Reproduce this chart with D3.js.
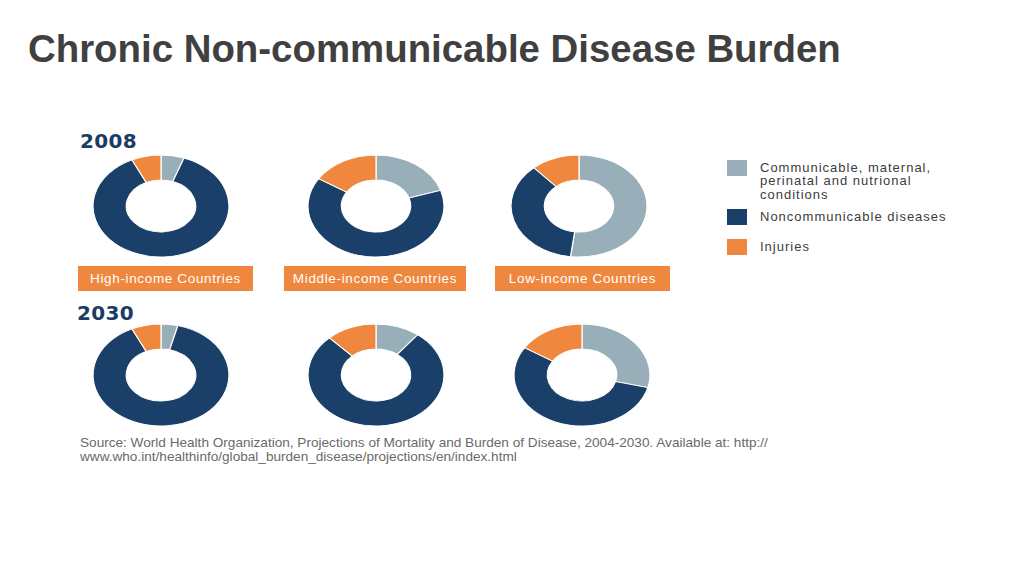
<!DOCTYPE html>
<html>
<head>
<meta charset="utf-8">
<script src="https://cdn.jsdelivr.net/npm/d3@7"></script>
<style>
  html, body { margin: 0; padding: 0; background: #fff; }
  text { font-family: "Liberation Sans", Arial, sans-serif; }
</style>
</head>
<body>
<div class="root"></div>
<script>
const categories = ['Communicable, maternal, perinatal and nutrional conditions', 'Noncommunicable diseases', 'Injuries']
const legendLines = [['Communicable, maternal,', 'perinatal and nutrional', 'conditions'], ['Noncommunicable diseases'], ['Injuries']]
const incomeGroups = ['High-income Countries', 'Middle-income Countries', 'Low-income Countries']
const years = ['2008', '2030']

// shares in %, one value per income group
const communicable2008 = [5.5, 20, 52]
const noncommunicable2008 = [87.5, 64, 36.5]
const injuries2008 = [7, 16, 11.5]

const communicable2030 = [4, 10.5, 29]
const noncommunicable2030 = [89, 77.5, 55]
const injuries2030 = [7, 12, 16]

const sourceLines = [
  'Source: World Health Organization, Projections of Mortality and Burden of Disease, 2004-2030. Available at: http://',
  'www.who.int/healthinfo/global_burden_disease/projections/en/index.html'
]

const seriesByYear = {
  '2008': [communicable2008, noncommunicable2008, injuries2008],
  '2030': [communicable2030, noncommunicable2030, injuries2030]
}

renderChart()

function renderChart () {
  const width = 1024
      , height = 576
      , rx = 68
      , ry = 51

  const colour = d3.scaleOrdinal()
                   .domain(categories)
                   .range(['#98aeb9', '#1a406a', '#f0873e'])

  const xByGroup = { '2008': d3.scaleOrdinal().domain(incomeGroups).range([161, 376, 579]),
                     '2030': d3.scaleOrdinal().domain(incomeGroups).range([161, 376, 582]) }
  const yByYear = d3.scaleOrdinal().domain(years).range([206, 375])

  const svg = d3.select('.root')
                .append('svg')
                .attr('width', width)
                .attr('height', height)

  svg.append('text')
     .attr('x', 28)
     .attr('y', 62)
     .attr('fill', '#404040')
     .attr('font-size', 38.4)
     .attr('font-weight', 'bold')
     .text('Chronic Non-communicable Disease Burden')

  const pie = d3.pie().sort(null).value(d => d.value)
  const arc = d3.arc().innerRadius(rx * 0.51).outerRadius(rx)

  svg.selectAll('.year-label')
     .data(years)
     .enter()
     .append('text')
     .attr('class', 'year-label')
     .attr('x', (d, i) => i ? 77 : 80)
     .attr('y', (d, i) => i ? 319.5 : 148)
     .attr('fill', '#1b3d63')
     .style('font-family', '"DejaVu Sans", sans-serif')
     .attr('font-size', 20)
     .attr('font-weight', 'bold')
     .attr('letter-spacing', 0.3)
     .text(d => d)

  years.forEach(year => {
    incomeGroups.forEach((group, gi) => {
      const slices = categories.map((c, ci) => ({ cat: c, value: seriesByYear[year][ci][gi] }))
      const g = svg.append('g')
                   .attr('transform', `translate(${xByGroup[year](group)}, ${yByYear(year)}) scale(1, ${ry / rx})`)
      g.selectAll('path')
       .data(pie(slices))
       .enter()
       .append('path')
       .attr('d', arc)
       .attr('fill', d => colour(d.data.cat))
       .attr('stroke', '#fff')
       .attr('stroke-width', 1.2)
    })
  })

  // income group tags under the 2008 row
  const tagX = d3.scaleOrdinal().domain(incomeGroups).range([78, 284, 495])
  const tagW = d3.scaleOrdinal().domain(incomeGroups).range([175, 182, 175])
  const tags = svg.selectAll('.tag')
                  .data(incomeGroups)
                  .enter()
                  .append('g')
                  .attr('class', 'tag')
                  .attr('transform', d => `translate(${tagX(d)}, 266)`)
  tags.append('rect')
      .attr('width', d => tagW(d))
      .attr('height', 25)
      .attr('fill', '#f0873e')
  tags.append('text')
      .attr('x', d => tagW(d) / 2)
      .attr('y', 17)
      .attr('text-anchor', 'middle')
      .attr('fill', '#fff')
      .attr('font-size', 13.5)
      .attr('letter-spacing', 0.65)
      .text(d => d)

  // legend
  const legendY = d3.scaleOrdinal().domain(categories).range([160, 209, 239])
  const legend = svg.selectAll('.legend')
                    .data(categories)
                    .enter()
                    .append('g')
                    .attr('class', 'legend')
                    .attr('transform', d => `translate(727, ${legendY(d)})`)
  legend.append('rect')
        .attr('width', 20)
        .attr('height', 16)
        .attr('fill', d => colour(d))
  legend.append('text')
        .attr('fill', '#3c3c3c')
        .attr('font-size', 13)
        .attr('letter-spacing', 1.0)
        .selectAll('tspan')
        .data((d, i) => legendLines[i])
        .enter()
        .append('tspan')
        .attr('x', 33)
        .attr('y', (d, i) => 11.5 + i * 13.5)
        .text(d => d)

  svg.selectAll('.source')
     .data(sourceLines)
     .enter()
     .append('text')
     .attr('class', 'source')
     .attr('x', 80)
     .attr('y', (d, i) => 447 + i * 14)
     .attr('fill', '#6a6a6a')
     .attr('font-size', 13.6)
     .text(d => d)
}
</script>
</body>
</html>
